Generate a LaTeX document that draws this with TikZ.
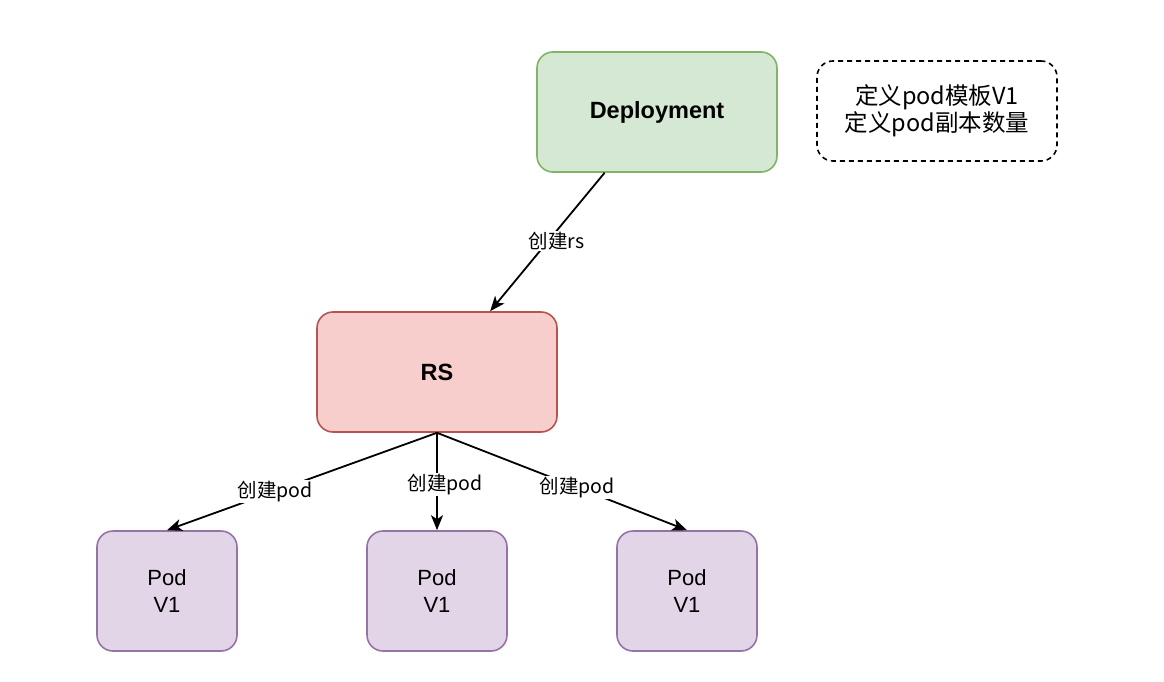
\documentclass[tikz,border=0pt]{standalone}
\usepackage{fontspec}
\setmainfont{Liberation Sans}
\newfontfamily\cjk{Noto Sans CJK SC}
\usetikzlibrary{arrows.meta,calc}
\definecolor{gfill}{HTML}{D5E8D4}\definecolor{gline}{HTML}{82B366}
\definecolor{rfill}{HTML}{F8CECC}\definecolor{rline}{HTML}{B85450}
\definecolor{pfill}{HTML}{E1D5E7}\definecolor{pline}{HTML}{9673A6}
\begin{document}
\begin{tikzpicture}[x=1pt,y=-1pt,
  box/.style={rounded corners=16pt,line width=1.6pt,minimum width=240pt,minimum height=120pt,inner sep=0pt,align=center,font=\fontsize{22}{27}\selectfont},
  podbox/.style={box,minimum width=140pt,fill=pfill,draw=pline},
  conn/.style={line width=1.8pt,-{Stealth[length=15pt,width=12pt,inset=4pt]}},
  lbl/.style={fill=white,inner sep=1pt,font=\cjk\fontsize{19.5}{22}\selectfont}]
\useasboundingbox (0,0) rectangle (1164,682);
\node[box,fill=gfill,draw=gline,font=\bfseries\fontsize{23.5}{27}\selectfont] (dep) at (657,112) {Deployment};
\node[box,draw=black,dashed,dash pattern=on 5pt off 4pt,minimum height=100pt,font=\cjk\fontsize{23.5}{27}\selectfont] (note) at (937,111) {定义pod模板V1\\定义pod副本数量};
\node[box,fill=rfill,draw=rline,font=\bfseries\fontsize{23.5}{27}\selectfont] (rs) at (437,372) {RS};
\node[podbox] (p1) at (167,591) {Pod\\V1};
\node[podbox] (p2) at (437,591) {Pod\\V1};
\node[podbox] (p3) at (687,591) {Pod\\V1};
\coordinate (ds) at ($(dep.south west)!0.283!(dep.south east)$);
\coordinate (rn) at ($(rs.north west)!0.72!(rs.north east)$);
\draw[conn] (ds) -- node[lbl,pos=0.49,xshift=8pt]{创建rs} (rn);
\draw[conn] (rs.south) -- node[lbl,pos=0.6]{创建pod} (p1.north);
\draw[conn] (rs.south) -- node[lbl,pos=0.53,xshift=8pt]{创建pod} (p2.north);
\draw[conn] (rs.south) -- node[lbl,pos=0.56]{创建pod} (p3.north);
\end{tikzpicture}
\end{document}
